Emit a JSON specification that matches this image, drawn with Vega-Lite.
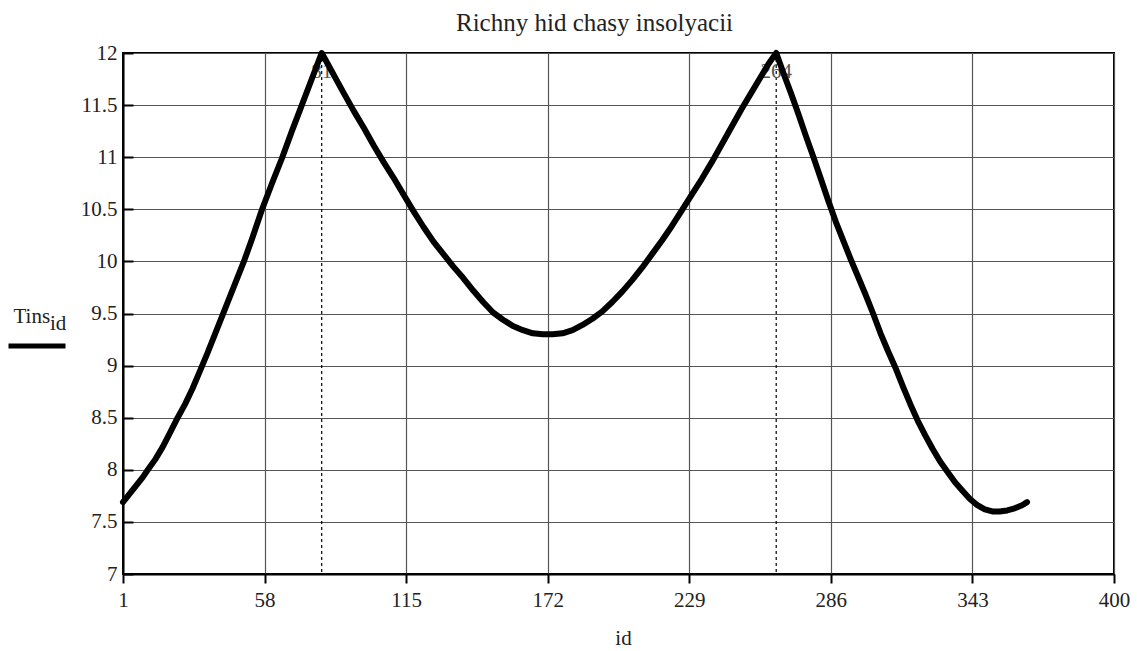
{
  "$schema": "https://vega.github.io/schema/vega-lite/v6.json",
  "width": 991,
  "height": 521,
  "autosize": {"type": "none"},
  "padding": {"left": 123, "top": 53, "right": 23, "bottom": 77},
  "background": "white",
  "title": {"text": "Richny hid chasy insolyacii", "frame": "group", "anchor": "middle", "offset": 6, "dx": -24, "font": "Liberation Serif", "fontSize": 25, "fontWeight": "normal", "color": "#222"},
  "datasets": {
    "curve": [
      {"id": 1, "Tins": 7.69}, {"id": 5, "Tins": 7.81}, {"id": 9, "Tins": 7.93}, {"id": 11, "Tins": 8.0},
      {"id": 14, "Tins": 8.1}, {"id": 17, "Tins": 8.22}, {"id": 20, "Tins": 8.36}, {"id": 23, "Tins": 8.5},
      {"id": 26, "Tins": 8.63}, {"id": 29, "Tins": 8.78}, {"id": 32, "Tins": 8.95}, {"id": 35, "Tins": 9.12},
      {"id": 38, "Tins": 9.3}, {"id": 41, "Tins": 9.48}, {"id": 44, "Tins": 9.66}, {"id": 47, "Tins": 9.84},
      {"id": 50, "Tins": 10.02}, {"id": 53, "Tins": 10.22}, {"id": 57, "Tins": 10.5}, {"id": 61, "Tins": 10.75},
      {"id": 65, "Tins": 10.99}, {"id": 69, "Tins": 11.25}, {"id": 73, "Tins": 11.5}, {"id": 77, "Tins": 11.75},
      {"id": 81, "Tins": 12.0}, {"id": 84, "Tins": 11.87}, {"id": 87, "Tins": 11.74}, {"id": 90, "Tins": 11.61},
      {"id": 94, "Tins": 11.44}, {"id": 98, "Tins": 11.28}, {"id": 102, "Tins": 11.11}, {"id": 106, "Tins": 10.95},
      {"id": 110, "Tins": 10.8}, {"id": 114, "Tins": 10.64}, {"id": 118, "Tins": 10.48}, {"id": 122, "Tins": 10.33},
      {"id": 126, "Tins": 10.19}, {"id": 130, "Tins": 10.07}, {"id": 134, "Tins": 9.95}, {"id": 138, "Tins": 9.84},
      {"id": 142, "Tins": 9.72}, {"id": 146, "Tins": 9.61}, {"id": 150, "Tins": 9.51}, {"id": 154, "Tins": 9.44},
      {"id": 158, "Tins": 9.38}, {"id": 162, "Tins": 9.34}, {"id": 166, "Tins": 9.31}, {"id": 170, "Tins": 9.3},
      {"id": 174, "Tins": 9.3}, {"id": 178, "Tins": 9.31}, {"id": 182, "Tins": 9.34}, {"id": 186, "Tins": 9.39},
      {"id": 190, "Tins": 9.45}, {"id": 194, "Tins": 9.52}, {"id": 198, "Tins": 9.61}, {"id": 202, "Tins": 9.71},
      {"id": 206, "Tins": 9.82}, {"id": 210, "Tins": 9.94}, {"id": 214, "Tins": 10.07}, {"id": 218, "Tins": 10.2},
      {"id": 222, "Tins": 10.34}, {"id": 226, "Tins": 10.49}, {"id": 230, "Tins": 10.64}, {"id": 234, "Tins": 10.79},
      {"id": 238, "Tins": 10.95}, {"id": 242, "Tins": 11.12}, {"id": 246, "Tins": 11.29}, {"id": 250, "Tins": 11.46},
      {"id": 254, "Tins": 11.62}, {"id": 258, "Tins": 11.78}, {"id": 261, "Tins": 11.9}, {"id": 264, "Tins": 12.0},
      {"id": 267, "Tins": 11.8}, {"id": 270, "Tins": 11.61}, {"id": 273, "Tins": 11.41}, {"id": 276, "Tins": 11.2},
      {"id": 279, "Tins": 11.0}, {"id": 282, "Tins": 10.79}, {"id": 285, "Tins": 10.58}, {"id": 288, "Tins": 10.38},
      {"id": 291, "Tins": 10.2}, {"id": 294, "Tins": 10.02}, {"id": 297, "Tins": 9.85}, {"id": 300, "Tins": 9.68},
      {"id": 303, "Tins": 9.5}, {"id": 306, "Tins": 9.31}, {"id": 309, "Tins": 9.14}, {"id": 312, "Tins": 8.98},
      {"id": 315, "Tins": 8.8}, {"id": 318, "Tins": 8.63}, {"id": 321, "Tins": 8.47}, {"id": 324, "Tins": 8.33},
      {"id": 327, "Tins": 8.2}, {"id": 330, "Tins": 8.08}, {"id": 333, "Tins": 7.98}, {"id": 336, "Tins": 7.88},
      {"id": 339, "Tins": 7.8}, {"id": 342, "Tins": 7.72}, {"id": 345, "Tins": 7.66}, {"id": 348, "Tins": 7.62},
      {"id": 351, "Tins": 7.6}, {"id": 354, "Tins": 7.6}, {"id": 357, "Tins": 7.61}, {"id": 360, "Tins": 7.63},
      {"id": 363, "Tins": 7.66}, {"id": 365, "Tins": 7.69}
    ],
    "peaks": [
      {"id": 81, "Tins": 12, "label": "81"},
      {"id": 264, "Tins": 12, "label": "264"}
    ]
  },
  "layer": [
    {
      "data": {"name": "peaks"},
      "mark": {"type": "rule", "color": "black", "strokeWidth": 1.2, "strokeDash": [3, 3]},
      "encoding": {
        "x": {"field": "id", "type": "quantitative"}
      }
    },
    {
      "data": {"name": "peaks"},
      "mark": {"type": "text", "font": "Liberation Serif", "fontSize": 21, "color": "#555", "baseline": "top", "align": "center", "dy": 8},
      "encoding": {
        "x": {"field": "id", "type": "quantitative"},
        "y": {"field": "Tins", "type": "quantitative"},
        "text": {"field": "label"}
      }
    },
    {
      "data": {"name": "curve"},
      "mark": {"type": "line", "strokeWidth": 6, "strokeJoin": "round", "strokeCap": "round"},
      "encoding": {
        "x": {
          "field": "id", "type": "quantitative",
          "scale": {"domain": [1, 400], "nice": false, "zero": false},
          "axis": {"values": [1, 58, 115, 172, 229, 286, 343, 400], "title": "id", "tickSize": 9, "labelPadding": 6, "titleX": 500, "titleY": 70, "titleBaseline": "alphabetic", "titleAlign": "center", "labelFlush": false}
        },
        "y": {
          "field": "Tins", "type": "quantitative",
          "scale": {"domain": [7, 12], "nice": false, "zero": false},
          "axis": {"values": [7, 7.5, 8, 8.5, 9, 9.5, 10, 10.5, 11, 11.5, 12], "format": "~f", "title": "Tins", "titleAngle": 0, "titleX": -110, "titleY": 269, "titleAlign": "left", "titleBaseline": "alphabetic", "tickSize": -10, "labelPadding": 16, "labelFlush": false}
        },
        "color": {
          "datum": "Tins",
          "scale": {"range": ["black"]},
          "legend": {"orient": "none", "legendX": -117, "legendY": 262, "title": "id", "titleOrient": "right", "titleAnchor": "start", "titleBaseline": "line-top", "titleLineHeight": 18, "titlePadding": -26, "titleFontSize": 21, "titleFont": "Liberation Serif", "titleFontWeight": "normal", "titleColor": "#222", "labelExpr": "''", "labelFontSize": 1, "symbolType": "stroke", "symbolSize": 3249, "symbolStrokeWidth": 5, "symbolStrokeColor": "black", "padding": 0, "labelOffset": 0}
        }
      }
    }
  ],
  "config": {
    "font": "Liberation Serif",
    "view": {"stroke": "black", "strokeWidth": 2},
    "axis": {
      "grid": true, "gridColor": "#555", "gridWidth": 1.2,
      "domainColor": "black", "domainWidth": 2,
      "tickColor": "black", "tickWidth": 2,
      "labelColor": "#222", "labelFont": "Liberation Serif", "labelFontSize": 21,
      "titleFont": "Liberation Serif", "titleFontWeight": "normal", "titleFontSize": 21, "titleColor": "#222"
    }
  }
}
